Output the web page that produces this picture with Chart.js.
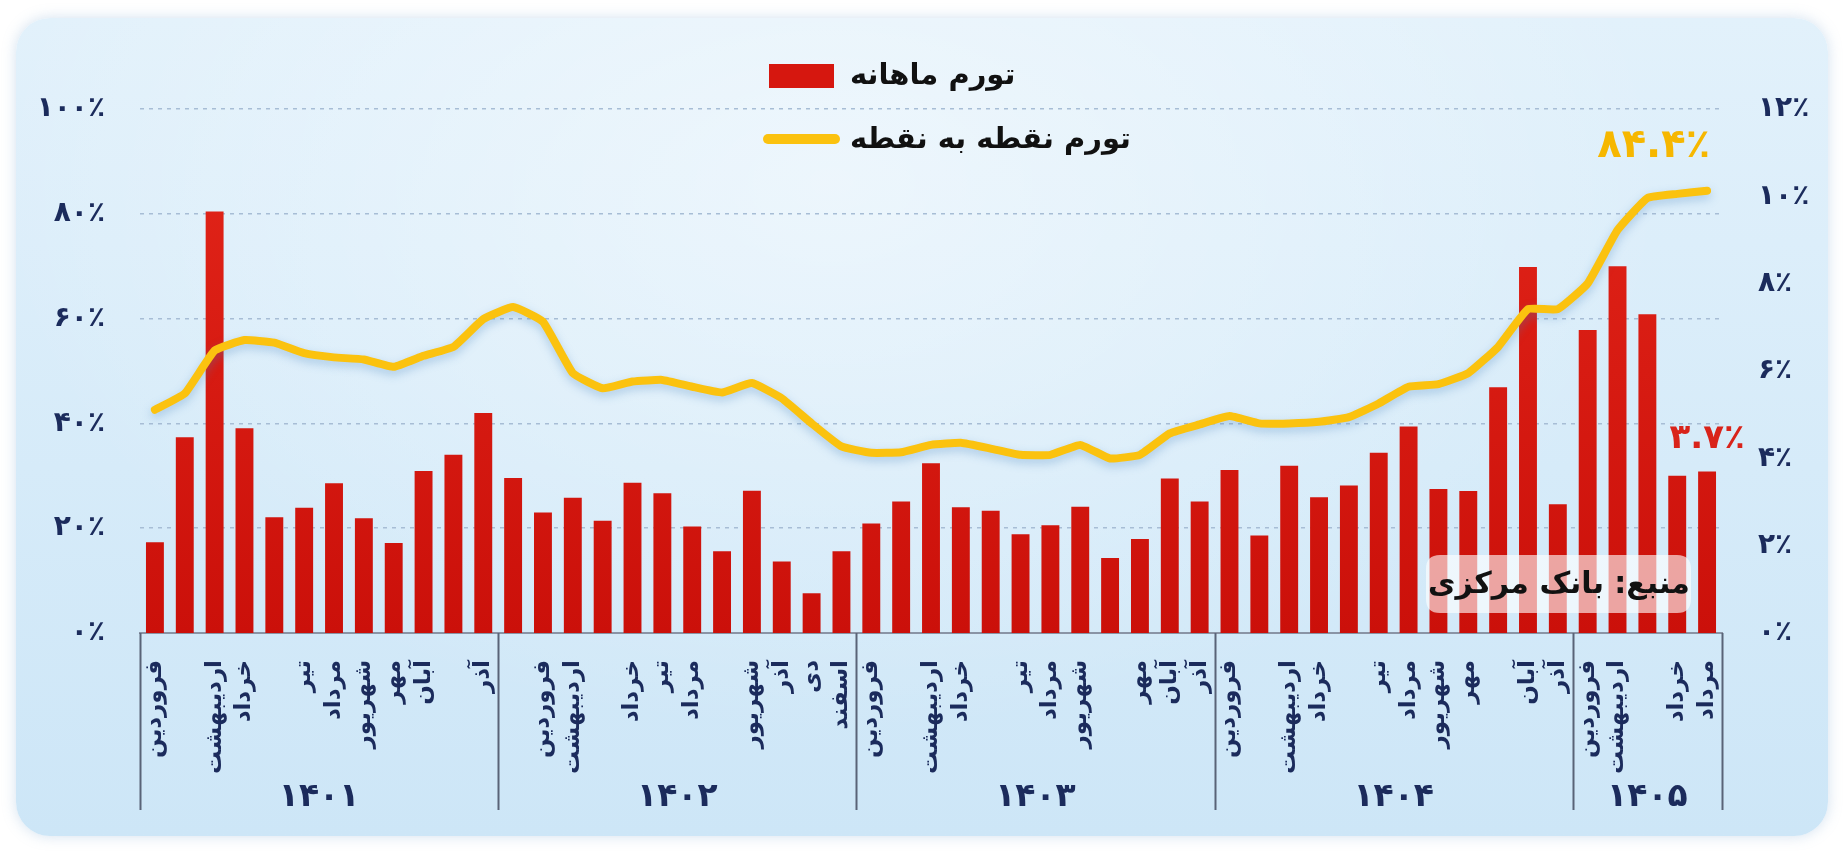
<!DOCTYPE html>
<html lang="fa">
<head>
<meta charset="utf-8">
<script src="https://cdn.jsdelivr.net/npm/chart.js@4.4.1/dist/chart.umd.min.js"></script>
<style>
  html, body { margin: 0; padding: 0; background: #ffffff; width: 1844px; height: 853px; overflow: hidden; }
  #card {
    position: absolute; left: 16px; top: 18px; width: 1812px; height: 818px;
    border-radius: 34px;
    background: radial-gradient(ellipse at 45% 20%, rgba(255,255,255,0.45), rgba(255,255,255,0) 60%),
                linear-gradient(180deg, #e2f1fb 0%, #d6ebf9 55%, #cde6f7 100%);
    box-shadow: 0 0 14px rgba(130,170,210,0.35);
  }
  #wrap { position: absolute; left: 0; top: 0; width: 1844px; height: 853px; }
</style>
</head>
<body>
<div id="card"></div>
<div id="wrap"><canvas id="c"></canvas></div>
<script>
// ---------------- DATA ----------------
const categories = [
  'فروردین ۱۴۰۱','اردیبهشت ۱۴۰۱','خرداد ۱۴۰۱','تیر ۱۴۰۱','مرداد ۱۴۰۱','شهریور ۱۴۰۱','مهر ۱۴۰۱','آبان ۱۴۰۱','آذر ۱۴۰۱','دی ۱۴۰۱','بهمن ۱۴۰۱','اسفند ۱۴۰۱',
  'فروردین ۱۴۰۲','اردیبهشت ۱۴۰۲','خرداد ۱۴۰۲','تیر ۱۴۰۲','مرداد ۱۴۰۲','شهریور ۱۴۰۲','مهر ۱۴۰۲','آبان ۱۴۰۲','آذر ۱۴۰۲','دی ۱۴۰۲','بهمن ۱۴۰۲','اسفند ۱۴۰۲',
  'فروردین ۱۴۰۳','اردیبهشت ۱۴۰۳','خرداد ۱۴۰۳','تیر ۱۴۰۳','مرداد ۱۴۰۳','شهریور ۱۴۰۳','مهر ۱۴۰۳','آبان ۱۴۰۳','آذر ۱۴۰۳','دی ۱۴۰۳','بهمن ۱۴۰۳','اسفند ۱۴۰۳',
  'فروردین ۱۴۰۴','اردیبهشت ۱۴۰۴','خرداد ۱۴۰۴','تیر ۱۴۰۴','مرداد ۱۴۰۴','شهریور ۱۴۰۴','مهر ۱۴۰۴','آبان ۱۴۰۴','آذر ۱۴۰۴','دی ۱۴۰۴','بهمن ۱۴۰۴','اسفند ۱۴۰۴',
  'فروردین ۱۴۰۵','اردیبهشت ۱۴۰۵','خرداد ۱۴۰۵','تیر ۱۴۰۵','مرداد ۱۴۰۵'
];

// month names as they appear under the axis (blank = no label shown)
const tickLabels = [
  'فروردین','','اردیبهشت','خرداد','','تیر','مرداد','شهریور','مهر','آبان','','آذر',
  '','فروردین','اردیبهشت','','خرداد','تیر','مرداد','','شهریور','آذر','دی','اسفند',
  'فروردین','','اردیبهشت','خرداد','','تیر','مرداد','شهریور','','مهر','آبان','آذر',
  'فروردین','','اردیبهشت','خرداد','','تیر','مرداد','شهریور','مهر','','آبان','آذر',
  'فروردین','اردیبهشت','','خرداد','مرداد'
];

const years = ['۱۴۰۱','۱۴۰۲','۱۴۰۳','۱۴۰۴','۱۴۰۵'];
const monthsPerYear = [12, 12, 12, 12, 5];

// monthly inflation (%), right axis
const monthlyInflation = [
  2.08, 4.48, 9.65, 4.69, 2.65, 2.87, 3.43, 2.63, 2.06, 3.71, 4.08, 5.04,
  3.55, 2.76, 3.10, 2.57, 3.44, 3.20, 2.44, 1.87, 3.26, 1.64, 0.91, 1.87,
  2.51, 3.01, 3.89, 2.88, 2.80, 2.26, 2.47, 2.89, 1.72, 2.15, 3.54, 3.01,
  3.73, 2.23, 3.83, 3.11, 3.38, 4.13, 4.73, 3.30, 3.25, 5.63, 8.38, 2.95,
  6.94, 8.40, 7.30, 3.60, 3.70
];

// point-to-point inflation (%), left axis
const pointInflation = [
  42.6, 45.7, 53.9, 55.9, 55.4, 53.4, 52.6, 52.2, 50.8, 52.9, 54.6, 59.9,
  62.2, 59.4, 49.6, 46.7, 48.0, 48.3, 47.0, 45.9, 47.7, 44.8, 40.0, 35.6,
  34.4, 34.5, 35.9, 36.3, 35.2, 34.0, 34.0, 35.9, 33.3, 34.0, 38.1, 39.8,
  41.4, 40.0, 40.0, 40.3, 41.2, 43.8, 47.0, 47.5, 49.6, 54.6, 61.8, 61.8,
  66.7, 76.9, 83.0, 83.8, 84.4
];

const seriesNames = ['تورم ماهانه', 'تورم نقطه به نقطه'];
const sourceText = 'منبع: بانک مرکزی';

// ---------------- HELPERS ----------------
const FONT = "'DejaVu Sans', 'Noto Sans', sans-serif";
const NAVY = '#1b2b5c';
const RED = '#d6170f';
const YELLOW = '#fbc20f';
const toFa = s => String(s).replace(/\d/g, d => '۰۱۲۳۴۵۶۷۸۹'[d]);

function roundRect(ctx, x, y, w, h, r) {
  ctx.beginPath();
  ctx.moveTo(x + r, y);
  ctx.lineTo(x + w - r, y);
  ctx.quadraticCurveTo(x + w, y, x + w, y + r);
  ctx.lineTo(x + w, y + h - r);
  ctx.quadraticCurveTo(x + w, y + h, x + w - r, y + h);
  ctx.lineTo(x + r, y + h);
  ctx.quadraticCurveTo(x, y + h, x, y + h - r);
  ctx.lineTo(x, y + r);
  ctx.quadraticCurveTo(x, y, x + r, y);
  ctx.closePath();
}

// line glow
const lineShadow = {
  id: 'lineShadow',
  beforeDatasetDraw(chart, args) {
    if (chart.data.datasets[args.index].type === 'line') {
      const ctx = chart.ctx;
      ctx.save();
      ctx.shadowColor = 'rgba(70,130,190,0.35)';
      ctx.shadowBlur = 10;
      ctx.shadowOffsetY = 4;
    }
  },
  afterDatasetDraw(chart, args) {
    if (chart.data.datasets[args.index].type === 'line') chart.ctx.restore();
  }
};

// year groups, legend, annotations, source box
const decor = {
  id: 'decor',
  afterDatasetsDraw(chart) {
    const ctx = chart.ctx;
    const x = chart.scales.x;
    const yL = chart.scales.yL;
    const yR = chart.scales.yR;

    // end-value annotations
    const last = pointInflation.length - 1;
    const lx = x.getPixelForValue(last);
    ctx.save();
    ctx.direction = 'ltr';
    ctx.textBaseline = 'middle';
    ctx.font = `bold 40px ${FONT}`;
    ctx.fillStyle = '#f6b700';
    ctx.textAlign = 'right';
    ctx.fillText(toFa(pointInflation[last].toFixed(1)) + '٪', lx + 3, yL.getPixelForValue(pointInflation[last]) - 44);
    ctx.font = `bold 34px ${FONT}`;
    ctx.fillStyle = '#d9231a';
    ctx.textAlign = 'center';
    ctx.fillText(toFa(monthlyInflation[last].toFixed(1)) + '٪', lx, yR.getPixelForValue(monthlyInflation[last]) - 32);
    ctx.restore();

    // source box
    ctx.save();
    roundRect(ctx, 1426, 555, 265, 58, 14);
    ctx.fillStyle = 'rgba(255,255,255,0.62)';
    ctx.fill();
    ctx.direction = 'rtl';
    ctx.font = `bold 30px ${FONT}`;
    ctx.fillStyle = '#111111';
    ctx.textAlign = 'center';
    ctx.textBaseline = 'middle';
    ctx.fillText(sourceText, 1559, 585);
    ctx.restore();
  },
  afterDraw(chart) {
    const ctx = chart.ctx;
    const x = chart.scales.x;
    const area = chart.chartArea;

    // year separators and year labels
    const bottom = 810;
    const bounds = [area.left];
    let idx = 0;
    monthsPerYear.forEach((n, k) => {
      idx += n;
      if (k < monthsPerYear.length - 1) {
        bounds.push((x.getPixelForValue(idx - 1) + x.getPixelForValue(idx)) / 2);
      }
    });
    bounds.push(area.right);
    ctx.save();
    ctx.strokeStyle = '#596377';
    ctx.lineWidth = 2;
    bounds.forEach(bx => {
      ctx.beginPath();
      ctx.moveTo(Math.round(bx) + 0.5, area.bottom);
      ctx.lineTo(Math.round(bx) + 0.5, bottom);
      ctx.stroke();
    });
    ctx.font = `bold 33px ${FONT}`;
    ctx.fillStyle = NAVY;
    ctx.textAlign = 'center';
    ctx.textBaseline = 'middle';
    years.forEach((yr, k) => {
      ctx.fillText(yr, (bounds[k] + bounds[k + 1]) / 2, 797);
    });
    ctx.restore();

    // legend
    ctx.save();
    ctx.fillStyle = RED;
    ctx.fillRect(769, 64, 65, 24);
    ctx.strokeStyle = YELLOW;
    ctx.lineWidth = 10;
    ctx.lineCap = 'round';
    ctx.beginPath();
    ctx.moveTo(768, 139);
    ctx.lineTo(835, 139);
    ctx.stroke();
    ctx.direction = 'rtl';
    ctx.font = `bold 29px ${FONT}`;
    ctx.fillStyle = '#111111';
    ctx.textAlign = 'left';
    ctx.textBaseline = 'middle';
    ctx.fillText(chart.data.datasets[0].label, 850, 76);
    ctx.fillText(chart.data.datasets[1].label, 850, 140);
    ctx.restore();
  }
};

// ---------------- CHART ----------------
const ctxEl = document.getElementById('c');
new Chart(ctxEl, {
  data: {
    labels: categories,
    datasets: [
      {
        type: 'bar',
        label: seriesNames[0],
        data: monthlyInflation,
        yAxisID: 'yR',
        order: 2,
        backgroundColor: (c) => {
          const a = c.chart.chartArea;
          if (!a) return RED;
          const g = c.chart.ctx.createLinearGradient(0, a.top, 0, a.bottom);
          g.addColorStop(0, '#e3261a');
          g.addColorStop(1, '#cb100a');
          return g;
        },
        barPercentage: 0.6,
        categoryPercentage: 1.0
      },
      {
        type: 'line',
        label: seriesNames[1],
        data: pointInflation,
        yAxisID: 'yL',
        order: 1,
        borderColor: YELLOW,
        borderWidth: 8,
        pointRadius: 0,
        tension: 0.12,
        borderJoinStyle: 'round',
        borderCapStyle: 'round',
        fill: false
      }
    ]
  },
  options: {
    responsive: true,
    maintainAspectRatio: false,
    animation: false,
    devicePixelRatio: 1,
    layout: { padding: { top: 109, bottom: 0, left: 0, right: 0 } },
    plugins: { legend: { display: false }, tooltip: { enabled: false } },
    scales: {
      x: {
        type: 'category',
        offset: true,
        grid: { display: false, drawTicks: false },
        border: { display: true, color: '#8a94a5', width: 2 },
        ticks: {
          autoSkip: false,
          minRotation: 90,
          maxRotation: 90,
          padding: 27,
          color: NAVY,
          font: { family: FONT, size: 23, weight: 'bold' },
          callback: (v, i) => tickLabels[i]
        },
        afterFit: (s) => { s.height = 220; }
      },
      yL: {
        type: 'linear',
        position: 'left',
        min: 0,
        max: 100,
        grid: {
          drawTicks: false,
          color: (c) => (c.tick && c.tick.value === 0) ? 'rgba(0,0,0,0)' : '#a7bdd5',
          lineWidth: 1.5
        },
        border: { display: false, dash: [4, 5] },
        ticks: {
          stepSize: 20,
          padding: 35,
          color: NAVY,
          font: { family: FONT, size: 28, weight: 'bold' },
          callback: (v) => toFa(v) + '٪'
        },
        afterFit: (s) => { s.width = 140; }
      },
      yR: {
        type: 'linear',
        position: 'right',
        min: 0,
        max: 12,
        grid: { display: false, drawTicks: false },
        border: { display: false },
        ticks: {
          stepSize: 2,
          padding: 36,
          color: NAVY,
          font: { family: FONT, size: 28, weight: 'bold' },
          callback: (v) => toFa(v) + '٪'
        },
        afterFit: (s) => { s.width = 122; }
      }
    }
  },
  plugins: [lineShadow, decor]
});
</script>
</body>
</html>
